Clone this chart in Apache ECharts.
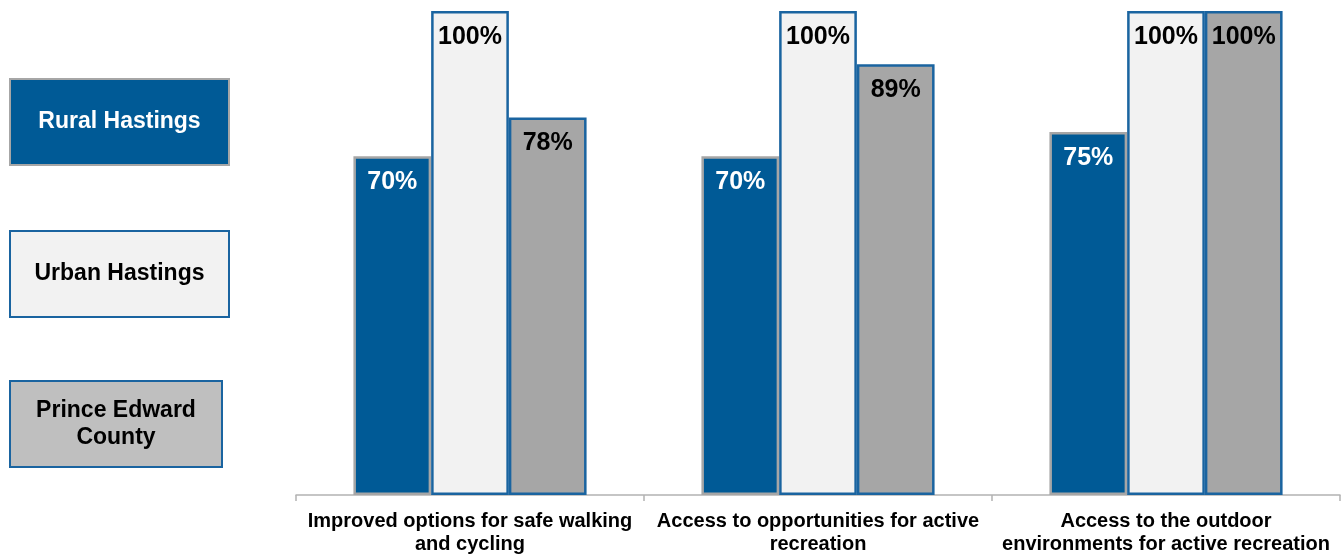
<!DOCTYPE html>
<html>
<head>
<meta charset="utf-8">
<script src="https://cdn.jsdelivr.net/npm/echarts@6/dist/echarts.min.js"></script>
<style>
  html, body { margin: 0; padding: 0; background: #ffffff; }
  #chart { width: 1341px; height: 556px; }
</style>
</head>
<body>
<div id="chart"></div>
<script>
// Categories (line breaks as shown under the axis)
const categories = [
  'Improved options for safe walking\nand cycling',
  'Access to opportunities for active\nrecreation',
  'Access to the outdoor\nenvironments for active recreation'
];

// Percent of respondents, by region
const seriesNames = ['Rural Hastings', 'Urban Hastings', 'Prince Edward\nCounty'];
const ruralHastings = [70, 70, 75];
const urbanHastings = [100, 100, 100];
const princeEdwardCounty = [78, 89, 100];

const BLUE = '#005a96';
const EDGE_BLUE = '#1a64a0';
const GREY_EDGE = '#a6a6a6';
const FONT = '"Liberation Sans", Arial, sans-serif';

const styles = [
  { fill: BLUE, border: GREY_EDGE, text: '#ffffff', keyFill: BLUE, keyBorder: GREY_EDGE },
  { fill: '#f2f2f2', border: EDGE_BLUE, text: '#000000', keyFill: '#f2f2f2', keyBorder: EDGE_BLUE },
  { fill: '#a6a6a6', border: EDGE_BLUE, text: '#000000', keyFill: '#bfbfbf', keyBorder: EDGE_BLUE }
];
const values = [ruralHastings, urbanHastings, princeEdwardCounty];

// Key boxes on the left
const keyBoxes = [
  { x: 9, y: 78, w: 219, h: 86 },
  { x: 9, y: 230, w: 219, h: 86 },
  { x: 9, y: 380, w: 212, h: 86 }
];

const graphic = seriesNames.map((name, i) => ({
  type: 'group',
  left: keyBoxes[i].x,
  top: keyBoxes[i].y,
  children: [
    {
      type: 'rect',
      shape: { x: 0, y: 0, width: keyBoxes[i].w, height: keyBoxes[i].h },
      style: { fill: styles[i].keyFill, stroke: styles[i].keyBorder, lineWidth: 2 }
    },
    {
      type: 'text',
      x: keyBoxes[i].w / 2,
      y: keyBoxes[i].h / 2,
      style: {
        text: name,
        fill: styles[i].text,
        font: 'bold 23px ' + FONT,
        align: 'center',
        verticalAlign: 'middle',
        lineHeight: 27
      }
    }
  ]
}));

const series = values.map((data, i) => ({
  name: seriesNames[i],
  type: 'bar',
  data: data,
  barGap: '0%',
  barCategoryGap: '33%',
  itemStyle: {
    color: styles[i].fill,
    borderColor: styles[i].border,
    borderWidth: 2.5
  },
  label: {
    show: true,
    position: 'insideTop',
    distance: 13,
    formatter: '{c}%',
    color: styles[i].text,
    fontFamily: FONT,
    fontWeight: 'bold',
    fontSize: 25,
    lineHeight: 26
  }
}));

const chart = echarts.init(document.getElementById('chart'));
chart.setOption({
  animation: false,
  backgroundColor: '#ffffff',
  grid: { left: 296, right: 1, top: 11, bottom: 61 },
  xAxis: {
    type: 'category',
    data: categories,
    axisLine: { lineStyle: { color: '#b3b3b3', width: 1.5 } },
    axisTick: { show: true, length: 6, lineStyle: { color: '#b3b3b3', width: 1.5 } },
    axisLabel: {
      interval: 0,
      margin: 15,
      color: '#000000',
      fontFamily: FONT,
      fontWeight: 'bold',
      fontSize: 20,
      lineHeight: 23
    }
  },
  yAxis: {
    type: 'value',
    min: 0,
    max: 100,
    show: false,
    splitLine: { show: false }
  },
  graphic: graphic,
  series: series
});
</script>
</body>
</html>
